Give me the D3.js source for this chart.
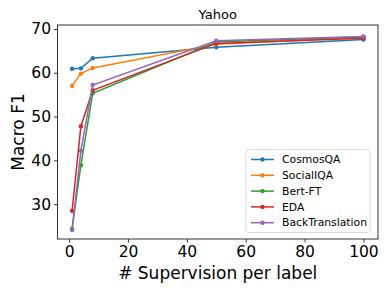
<!DOCTYPE html>
<html>
<head>
<meta charset="utf-8">
<script src="https://cdn.jsdelivr.net/npm/d3@7"></script>
<style>
  body { margin: 0; background: #fff; }
  svg { display: block; font-family: "DejaVu Sans", sans-serif; }
</style>
</head>
<body>
<svg id="chart" width="390" height="293"></svg>
<script>
// data
const supervision = [1, 4, 8, 50, 100];
const seriesNames = ['CosmosQA', 'SocialIQA', 'Bert-FT', 'EDA', 'BackTranslation'];
const cosmosQA = [60.9, 61.0, 63.3, 65.8, 67.6];
const socialIQA = [57.0, 59.8, 61.1, 66.5, 68.1];
const bertFT = [24.4, 38.9, 55.3, 67.0, 68.2];
const eda = [28.5, 47.8, 56.0, 66.7, 67.9];
const backTranslation = [24.1, 42.2, 57.2, 67.3, 68.3];
const xTicks = [0, 20, 40, 60, 80, 100];
const yTicks = [30, 40, 50, 60, 70];

const colors = ['#1f77b4', '#ff7f0e', '#2ca02c', '#d62728', '#9467bd'];
const allSeries = [cosmosQA, socialIQA, bertFT, eda, backTranslation];

const margin = {left: 57.5, right: 12, top: 25, bottom: 54};
const width = 390, height = 293;

const svg = d3.select('#chart');

const x = d3.scaleLinear().domain([-3.95, 104.95]).range([margin.left, width - margin.right]);
const y = d3.scaleLinear().domain([22.05, 70.9]).range([height - margin.bottom, margin.top]);

// axes
const xAxis = svg.append('g')
    .attr('transform', `translate(0,${height - margin.bottom})`)
    .call(d3.axisBottom(x).tickValues(xTicks).tickSize(3.5).tickPadding(3));
const yAxis = svg.append('g')
    .attr('transform', `translate(${margin.left},0)`)
    .call(d3.axisLeft(y).tickValues(yTicks).tickSize(3.5).tickPadding(3));

[xAxis, yAxis].forEach(a => {
    a.select('.domain').remove();
    a.selectAll('text').style('font-size', '15.5px').attr('fill', '#000')
        .style('font-family', '"DejaVu Sans", sans-serif');
    a.selectAll('line').attr('stroke', '#000').attr('stroke-width', 0.8);
});

// frame
svg.append('rect')
    .attr('x', margin.left).attr('y', margin.top)
    .attr('width', width - margin.right - margin.left)
    .attr('height', height - margin.bottom - margin.top)
    .attr('fill', 'none').attr('stroke', '#333').attr('stroke-width', 1);

const line = d3.line()
    .x((d, i) => x(supervision[i]))
    .y(d => y(d));

// lines + dot markers per series
allSeries.forEach((vals, k) => {
    svg.append('path')
        .datum(vals)
        .attr('d', line)
        .attr('fill', 'none')
        .attr('stroke', colors[k])
        .attr('stroke-width', 1.5);
    svg.selectAll(null)
        .data(vals)
        .enter().append('circle')
        .attr('cx', (d, i) => x(supervision[i]))
        .attr('cy', d => y(d))
        .attr('r', 2.2)
        .attr('fill', colors[k]);
});

// title and labels
svg.append('text')
    .attr('x', (margin.left + width - margin.right) / 2).attr('y', 18.5)
    .attr('text-anchor', 'middle')
    .style('font-size', '13px')
    .text('Yahoo');

svg.append('text')
    .attr('x', (margin.left + width - margin.right) / 2).attr('y', 279)
    .attr('text-anchor', 'middle')
    .style('font-size', '17px')
    .text('# Supervision per label');

svg.append('text')
    .attr('transform', `translate(24,${(margin.top + height - margin.bottom) / 2}) rotate(-90)`)
    .attr('text-anchor', 'middle')
    .style('font-size', '17px')
    .text('Macro F1');

// legend
const legend = svg.append('g').attr('transform', 'translate(246,149.5)');
legend.append('rect')
    .attr('width', 124).attr('height', 83)
    .attr('rx', 2.5)
    .attr('fill', '#fff').attr('fill-opacity', 0.8)
    .attr('stroke', '#d0d0d0').attr('stroke-width', 0.8);

seriesNames.forEach((name, k) => {
    const gy = 10 + k * 15.8;
    legend.append('line')
        .attr('x1', 5).attr('x2', 28).attr('y1', gy).attr('y2', gy)
        .attr('stroke', colors[k]).attr('stroke-width', 1.5);
    legend.append('circle')
        .attr('cx', 16.5).attr('cy', gy).attr('r', 2.2).attr('fill', colors[k]);
    legend.append('text')
        .attr('x', 36).attr('y', gy)
        .attr('dy', '0.35em')
        .style('font-size', '10.8px')
        .text(name);
});
</script>
</body>
</html>
